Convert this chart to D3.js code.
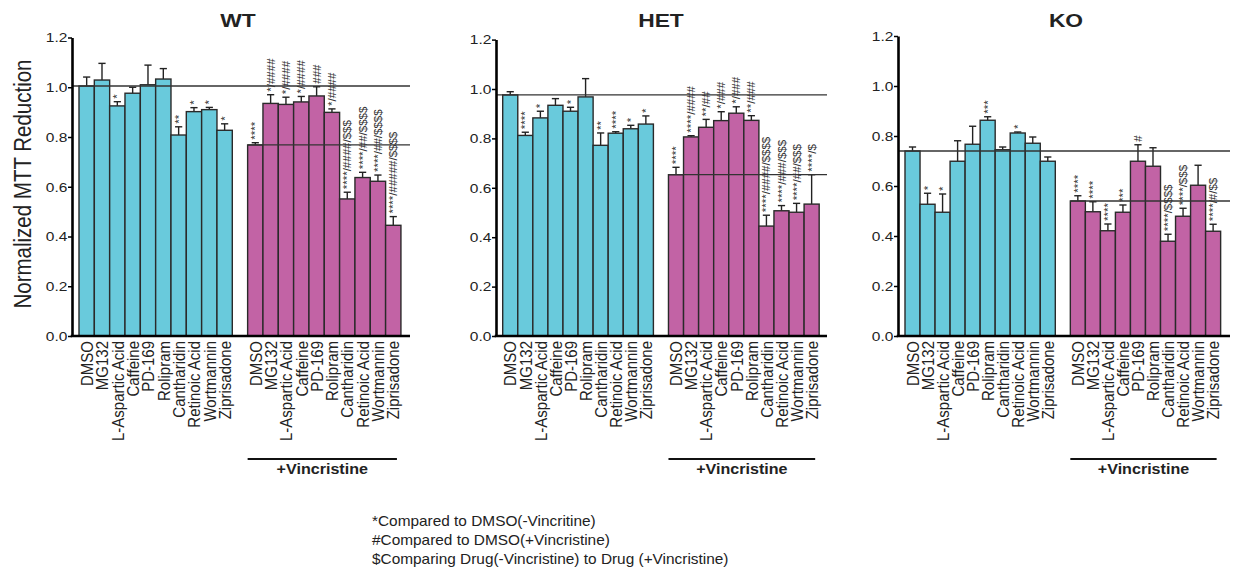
<!DOCTYPE html>
<html>
<head>
<meta charset="utf-8">
<script src="https://cdn.jsdelivr.net/npm/d3@7"></script>
<style>
  body { margin: 0; background: #fff; }
  text { font-family: "Liberation Sans", Arial, sans-serif; fill: #222; }
</style>
</head>
<body>
<div id="chart"></div>
<script>
// drug names on the x axis (same for every panel and both groups)
var drugs = ["DMSO", "MG132", "L-Aspartic Acid", "Caffeine", "PD-169", "Rolipram",
  "Cantharidin", "Retinoic Acid", "Wortmannin", "Ziprisadone"];
var yTicks = [0, 0.2, 0.4, 0.6, 0.8, 1.0, 1.2];

// WT
var wtMinus = [1.005, 1.029, 0.925, 0.976, 1.010, 1.033, 0.808, 0.902, 0.910, 0.827];
var wtMinusErr = [0.036, 0.067, 0.017, 0.024, 0.079, 0.042, 0.033, 0.016, 0.009, 0.026];
var wtMinusSig = ["", "", "*", "", "", "", "**", "*", "*", "*"];
var wtPlus = [0.768, 0.935, 0.931, 0.941, 0.965, 0.899, 0.551, 0.637, 0.622, 0.445];
var wtPlusErr = [0.009, 0.035, 0.029, 0.022, 0.037, 0.014, 0.027, 0.021, 0.025, 0.035];
var wtPlusSig = ["****", "*/####", "*/####", "*/####", "###", "*/####",
  "****/####/$$$", "****/##/$$$$", "****/##/$$$$", "****/#####/$$$$"];

// HET
var hetMinus = [0.976, 0.812, 0.883, 0.934, 0.910, 0.968, 0.772, 0.821, 0.839, 0.858];
var hetMinusErr = [0.013, 0.013, 0.027, 0.027, 0.016, 0.074, 0.050, 0.006, 0.014, 0.033];
var hetMinusSig = ["", "****", "*", "", "*", "", "**", "****", "*", "*"];
var hetPlus = [0.653, 0.806, 0.845, 0.872, 0.902, 0.873, 0.445, 0.507, 0.501, 0.534];
var hetPlusErr = [0.030, 0.005, 0.032, 0.036, 0.026, 0.019, 0.044, 0.021, 0.036, 0.119];
var hetPlusSig = ["****", "****/####", "**/##", "*/###", "*/###", "**/###",
  "****/####/$$$$", "****/###/$$$", "****/##/$$$", "****/$"];

// KO
var koMinus = [0.740, 0.527, 0.495, 0.699, 0.767, 0.863, 0.745, 0.812, 0.771, 0.699];
var koMinusErr = [0.016, 0.044, 0.073, 0.082, 0.072, 0.014, 0.011, 0.004, 0.025, 0.017];
var koMinusSig = ["", "*", "*", "", "", "***", "", "*", "", ""];
var koPlus = [0.540, 0.497, 0.421, 0.495, 0.699, 0.679, 0.379, 0.479, 0.603, 0.419];
var koPlusErr = [0.021, 0.040, 0.027, 0.029, 0.066, 0.074, 0.028, 0.032, 0.080, 0.028];
var koPlusSig = ["****", "****", "****", "***", "#", "", "****/$$$$", "****/$$$", "", "****/#/$$"];

var legendLines = ["*Compared to DMSO(-Vincritine)", "#Compared to DMSO(+Vincristine)",
  "$Comparing Drug(-Vincristine) to Drug (+Vincristine)"];

var cyan = "#69cadc", magenta = "#c263a5";

// panel placement
var panels = [
  { title: "WT", minus: wtMinus, minusErr: wtMinusErr, minusSig: wtMinusSig,
    plus: wtPlus, plusErr: wtPlusErr, plusSig: wtPlusSig,
    axisX: 72, x0: 79, bw: 15.33, top: 37.5, end: 410, titleX: 238 },
  { title: "HET", minus: hetMinus, minusErr: hetMinusErr, minusSig: hetMinusSig,
    plus: hetPlus, plusErr: hetPlusErr, plusSig: hetPlusSig,
    axisX: 496, x0: 502.7, bw: 15.07, top: 39.6, end: 827, titleX: 661 },
  { title: "KO", minus: koMinus, minusErr: koMinusErr, minusSig: koMinusSig,
    plus: koPlus, plusErr: koPlusErr, plusSig: koPlusSig,
    axisX: 898, x0: 905, bw: 15.03, top: 36, end: 1230, titleX: 1066 }
];

var W = 1236, H = 568, base = 336;
// the source figure is slightly stretched sideways; mimic it on the text
var stretch = 1.15;

var svg = d3.select("#chart").append("svg")
    .attr("width", W)
    .attr("height", H);

// y axis title
svg.append("text")
    .attr("transform", "translate(31,184) rotate(-90) scale(1," + stretch + ")")
    .attr("text-anchor", "middle")
    .style("font-size", "20.5px")
    .text("Normalized MTT Reduction");

panels.forEach(function(p) {
  var slots = drugs.map(function(d, i) { return "m" + i; })
      .concat(["gap"])
      .concat(drugs.map(function(d, i) { return "p" + i; }));

  var x = d3.scaleBand().domain(slots).range([p.x0, p.x0 + 21 * p.bw]).padding(0);
  var y = d3.scaleLinear().domain([0, 1.2]).range([base, p.top]);

  var rows = [];
  drugs.forEach(function(d, i) {
    rows.push({ key: "m" + i, name: d, v: p.minus[i], e: p.minusErr[i], sig: p.minusSig[i], fill: cyan });
  });
  drugs.forEach(function(d, i) {
    rows.push({ key: "p" + i, name: d, v: p.plus[i], e: p.plusErr[i], sig: p.plusSig[i], fill: magenta });
  });

  var g = svg.append("g");

  // title
  g.append("text")
      .attr("transform", "translate(" + p.titleX + ",27) scale(" + (stretch + 0.05) + ",1)")
      .attr("text-anchor", "middle")
      .style("font-size", "19px")
      .style("font-weight", "bold")
      .text(p.title);

  // error bars (upper only)
  var eb = g.selectAll(".err").data(rows).enter().append("g").attr("class", "err");
  eb.append("line")
      .attr("x1", function(d) { return x(d.key) + x.bandwidth() / 2; })
      .attr("x2", function(d) { return x(d.key) + x.bandwidth() / 2; })
      .attr("y1", function(d) { return y(d.v); })
      .attr("y2", function(d) { return y(d.v + d.e); })
      .attr("stroke", "#222").attr("stroke-width", 1.4);
  eb.append("line")
      .attr("x1", function(d) { return x(d.key) + x.bandwidth() / 2 - 3.6; })
      .attr("x2", function(d) { return x(d.key) + x.bandwidth() / 2 + 3.6; })
      .attr("y1", function(d) { return y(d.v + d.e); })
      .attr("y2", function(d) { return y(d.v + d.e); })
      .attr("stroke", "#222").attr("stroke-width", 1.4);

  // bars
  g.selectAll(".bar").data(rows).enter().append("rect")
      .attr("class", "bar")
      .attr("x", function(d) { return x(d.key); })
      .attr("y", function(d) { return y(d.v); })
      .attr("width", x.bandwidth())
      .attr("height", function(d) { return base - y(d.v); })
      .attr("fill", function(d) { return d.fill; })
      .attr("stroke", "#2a2a2a")
      .attr("stroke-width", 1.4);

  // reference lines at the two DMSO means
  g.append("line")
      .attr("x1", p.axisX).attr("x2", p.end)
      .attr("y1", y(p.minus[0])).attr("y2", y(p.minus[0]))
      .attr("stroke", "#333").attr("stroke-width", 1.3);
  g.append("line")
      .attr("x1", x("p0")).attr("x2", p.end)
      .attr("y1", y(p.plus[0])).attr("y2", y(p.plus[0]))
      .attr("stroke", "#333").attr("stroke-width", 1.3);

  // significance marks
  g.selectAll(".sig").data(rows.filter(function(d) { return d.sig; })).enter().append("text")
      .attr("class", "sig")
      .attr("transform", function(d) {
        return "translate(" + (x(d.key) + x.bandwidth() / 2) + "," + (y(d.v + d.e) - 3) + ") rotate(-90)";
      })
      .attr("dy", "0.35em")
      .style("font-size", "11.5px")
      .style("fill", "#333")
      .text(function(d) { return d.sig; });

  // y axis
  var ya = g.append("g")
      .attr("transform", "translate(" + p.axisX + ",0)")
      .call(d3.axisLeft(y).tickValues(yTicks).tickFormat(d3.format(".1f")).tickSize(4).tickSizeOuter(0));
  ya.select(".domain").attr("stroke", "#000").attr("stroke-width", 2.6);
  ya.selectAll(".tick line").attr("stroke", "#000").attr("stroke-width", 1.5);
  ya.selectAll(".tick text")
      .attr("x", -4)
      .attr("transform", "scale(" + stretch + ",1)")
      .style("font-size", "13.5px")
      .style("font-family", "Liberation Sans, Arial, sans-serif")
      .attr("fill", "#222");

  // x axis labels
  var xa = g.append("g")
      .attr("transform", "translate(0," + base + ")")
      .call(d3.axisBottom(x).tickValues(rows.map(function(d) { return d.key; }))
        .tickFormat(function(k) { return drugs[+k.slice(1)]; }).tickSize(0));
  xa.select(".domain").remove();
  xa.selectAll(".tick text")
      .attr("transform", "rotate(-90) scale(1," + stretch + ")")
      .attr("x", -5).attr("y", 0).attr("dy", "0.36em")
      .attr("text-anchor", "end")
      .style("font-size", "15px")
      .style("font-family", "Liberation Sans, Arial, sans-serif")
      .attr("fill", "#222");

  // baseline
  g.append("line")
      .attr("x1", p.axisX - 1.3).attr("x2", p.end)
      .attr("y1", base).attr("y2", base)
      .attr("stroke", "#000").attr("stroke-width", 2.6);

  // +Vincristine bracket
  var bx1 = x("p0"), bx2 = x("p9") + x.bandwidth() - 4;
  g.append("line")
      .attr("x1", bx1).attr("x2", bx2)
      .attr("y1", 459).attr("y2", 459)
      .attr("stroke", "#111").attr("stroke-width", 2);
  g.append("text")
      .attr("transform", "translate(" + ((bx1 + bx2) / 2) + ",474) scale(" + stretch + ",1)")
      .attr("text-anchor", "middle")
      .style("font-size", "14px")
      .style("font-weight", "bold")
      .text("+Vincristine");
});

// footnote legend
svg.append("g").selectAll("text").data(legendLines).enter().append("text")
    .attr("transform", function(d, i) { return "translate(372," + (526 + i * 19) + ") scale(1.1,1)"; })
    .style("font-size", "14px")
    .text(function(d) { return d; });
</script>
</body>
</html>
